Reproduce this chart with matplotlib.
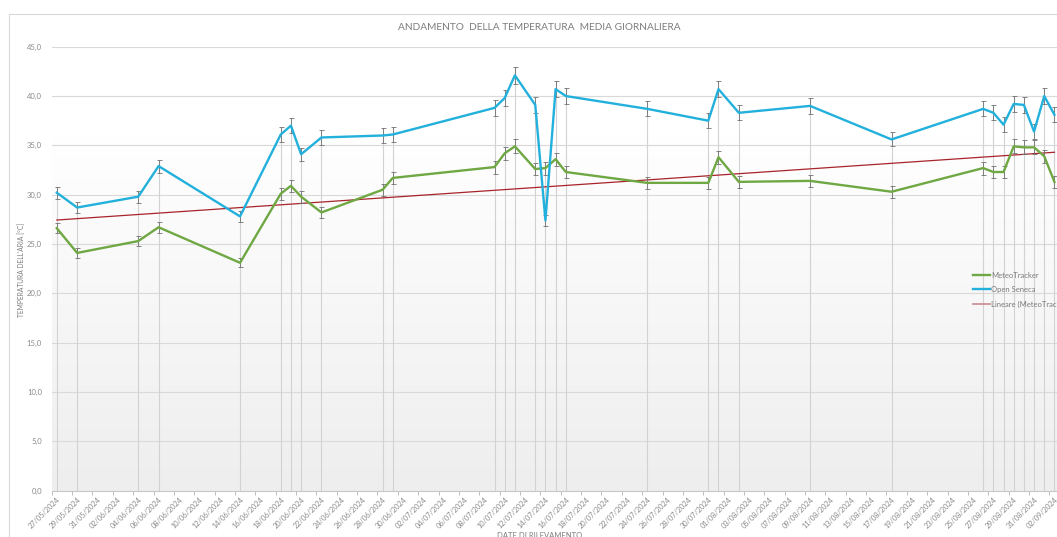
import numpy as np
import pandas as pd
import matplotlib
matplotlib.use('Agg')
import matplotlib.pyplot as plt
import matplotlib.dates as mdates
from matplotlib.patches import Rectangle

plt.rcParams['font.family'] = ['Lato', 'DejaVu Sans']

# dati
date = ['27/05/2024', '29/05/2024', '04/06/2024', '06/06/2024', '14/06/2024',
        '18/06/2024', '19/06/2024', '20/06/2024', '22/06/2024', '28/06/2024',
        '29/06/2024', '09/07/2024', '10/07/2024', '11/07/2024', '13/07/2024',
        '14/07/2024', '15/07/2024', '16/07/2024', '24/07/2024', '30/07/2024',
        '31/07/2024', '02/08/2024', '09/08/2024', '17/08/2024', '26/08/2024',
        '27/08/2024', '28/08/2024', '29/08/2024', '30/08/2024', '31/08/2024',
        '01/09/2024', '02/09/2024']
open_seneca = [30.2, 28.7, 29.8, 32.9, 27.8, 36.1, 37.0, 34.1, 35.8, 36.0,
               36.1, 38.8, 39.8, 42.1, 39.1, 27.4, 40.7, 40.0, 38.7, 37.5,
               40.7, 38.3, 39.0, 35.6, 38.7, 38.3, 37.1, 39.2, 39.1, 36.4,
               40.0, 38.1]
meteotracker = [26.6, 24.1, 25.3, 26.7, 23.1, 30.1, 30.9, 29.8, 28.2, 30.5,
                31.7, 32.8, 34.2, 34.9, 32.6, 32.7, 33.6, 32.3, 31.2, 31.2,
                33.8, 31.3, 31.4, 30.3, 32.7, 32.3, 32.3, 34.9, 34.8, 34.8,
                33.9, 31.3]
err_pct = 0.02
y_ticks = [0, 5, 10, 15, 20, 25, 30, 35, 40, 45]

x = pd.to_datetime(date, format='%d/%m/%Y')
xn = mdates.date2num(x)
blu = np.array(open_seneca)
verde = np.array(meteotracker)

c_verde = '#6fa843'
c_blu = '#22b0dc'
c_rosso = '#a8242a'
c_testo = '#8a8a8a'

fig = plt.figure(figsize=(10.57, 5.37), dpi=100)
fig.patch.set_facecolor('white')
# bordo del grafico
fig.patches.append(Rectangle((9.3 / 1057, -0.1), 1.2, (537 - 14.3) / 537 + 0.1,
                             transform=fig.transFigure, fill=False,
                             edgecolor='#d9d9d9', lw=0.8))

ax = fig.add_axes([51.7 / 1057, (537 - 490.7) / 537,
                   99 * 10.18 / 1057, (490.7 - 46.7) / 537])

# sfondo sfumato
grad = np.linspace(0, 1, 256).reshape(-1, 1)
grad = np.clip(grad / 0.8, 0, 1)
ax.imshow(grad, extent=[0, 1, 0, 1], transform=ax.transAxes, aspect='auto',
          cmap=matplotlib.colors.LinearSegmentedColormap.from_list('g', ['#eeeeee', '#ffffff']),
          origin='lower', zorder=0)

for s in ax.spines.values():
    s.set_visible(False)
ax.spines['bottom'].set_visible(True)
ax.spines['bottom'].set_color('#c8c8c8')

ax.set_ylim(0, 45)
ax.set_xlim(xn[0] - 0.5, xn[0] + 98.5)
ax.set_yticks(y_ticks)
ax.set_yticklabels([f'{v:.1f}'.replace('.', ',') for v in y_ticks],
                   fontsize=5.5, color=c_testo)
ax.tick_params(axis='y', length=0, pad=7)
ax.grid(axis='y', color='#d9d9d9', lw=0.8, zorder=1)

# tick ogni 2 giorni
tick_days = pd.date_range('2024-05-27', '2024-09-02', freq='2D')
tn = mdates.date2num(tick_days)
ax.set_xticks(tn)
ax.set_xticklabels([d.strftime('%d/%m/%Y') for d in tick_days], rotation=45,
                   ha='right', va='top', rotation_mode='anchor',
                   fontsize=5.3, color=c_testo)
ax.set_xticks(tn - 0.5, minor=True)
ax.tick_params(axis='x', which='major', length=0, pad=4)
ax.tick_params(axis='x', which='minor', length=3, color='#bdbdbd', width=0.7)

# linee verticali sui punti
top = np.maximum(blu * (1 + err_pct), verde * (1 + err_pct))
ax.vlines(xn, 0, top, color='#d2d2d2', lw=0.8, zorder=2)

ax.errorbar(xn, verde, yerr=verde * err_pct, color=c_verde, lw=1.7,
            ecolor='#707070', elinewidth=0.6, capsize=1.8, capthick=0.6,
            zorder=4)
ax.errorbar(xn, blu, yerr=blu * err_pct, color=c_blu, lw=1.7,
            ecolor='#707070', elinewidth=0.6, capsize=1.8, capthick=0.6,
            zorder=5)

# linea di tendenza lineare
m, q = np.polyfit(xn, verde, 1)
xt = np.array([xn[0], xn[-1]])
ax.plot(xt, m * xt + q, color=c_rosso, lw=0.9, zorder=3)

h = [plt.Line2D([], [], color=c_verde, lw=1.7),
     plt.Line2D([], [], color=c_blu, lw=1.7),
     plt.Line2D([], [], color='#c98a8e', lw=1.2)]
l = ['MeteoTracker', 'Open Seneca', 'Lineare (MeteoTracker)']
leg = fig.legend(h, l, loc='upper left', bbox_to_anchor=(966 / 1057, (537 - 265) / 537),
                 frameon=False, fontsize=5.5, handlelength=2.2, handletextpad=0.2,
                 labelspacing=0.95)
for t in leg.get_texts():
    t.set_color('#7a7a7a')

fig.text(539 / 1057, (537 - 27) / 537, 'ANDAMENTO  DELLA TEMPERATURA  MEDIA GIORNALIERA',
         ha='center', va='center', fontsize=7.3, color='#7c7c7c')
fig.text(22 / 1057, (537 - 270) / 537, "TEMPERATURA DELL'ARIA [°C]", rotation=90,
         ha='center', va='center', fontsize=4.8, color='#7c7c7c')
fig.text(540 / 1057, (537 - 536) / 537, 'DATE DI RILEVAMENTO', ha='center',
         va='center', fontsize=5.5, color='#7c7c7c')

fig.savefig('out.png', dpi=100)
